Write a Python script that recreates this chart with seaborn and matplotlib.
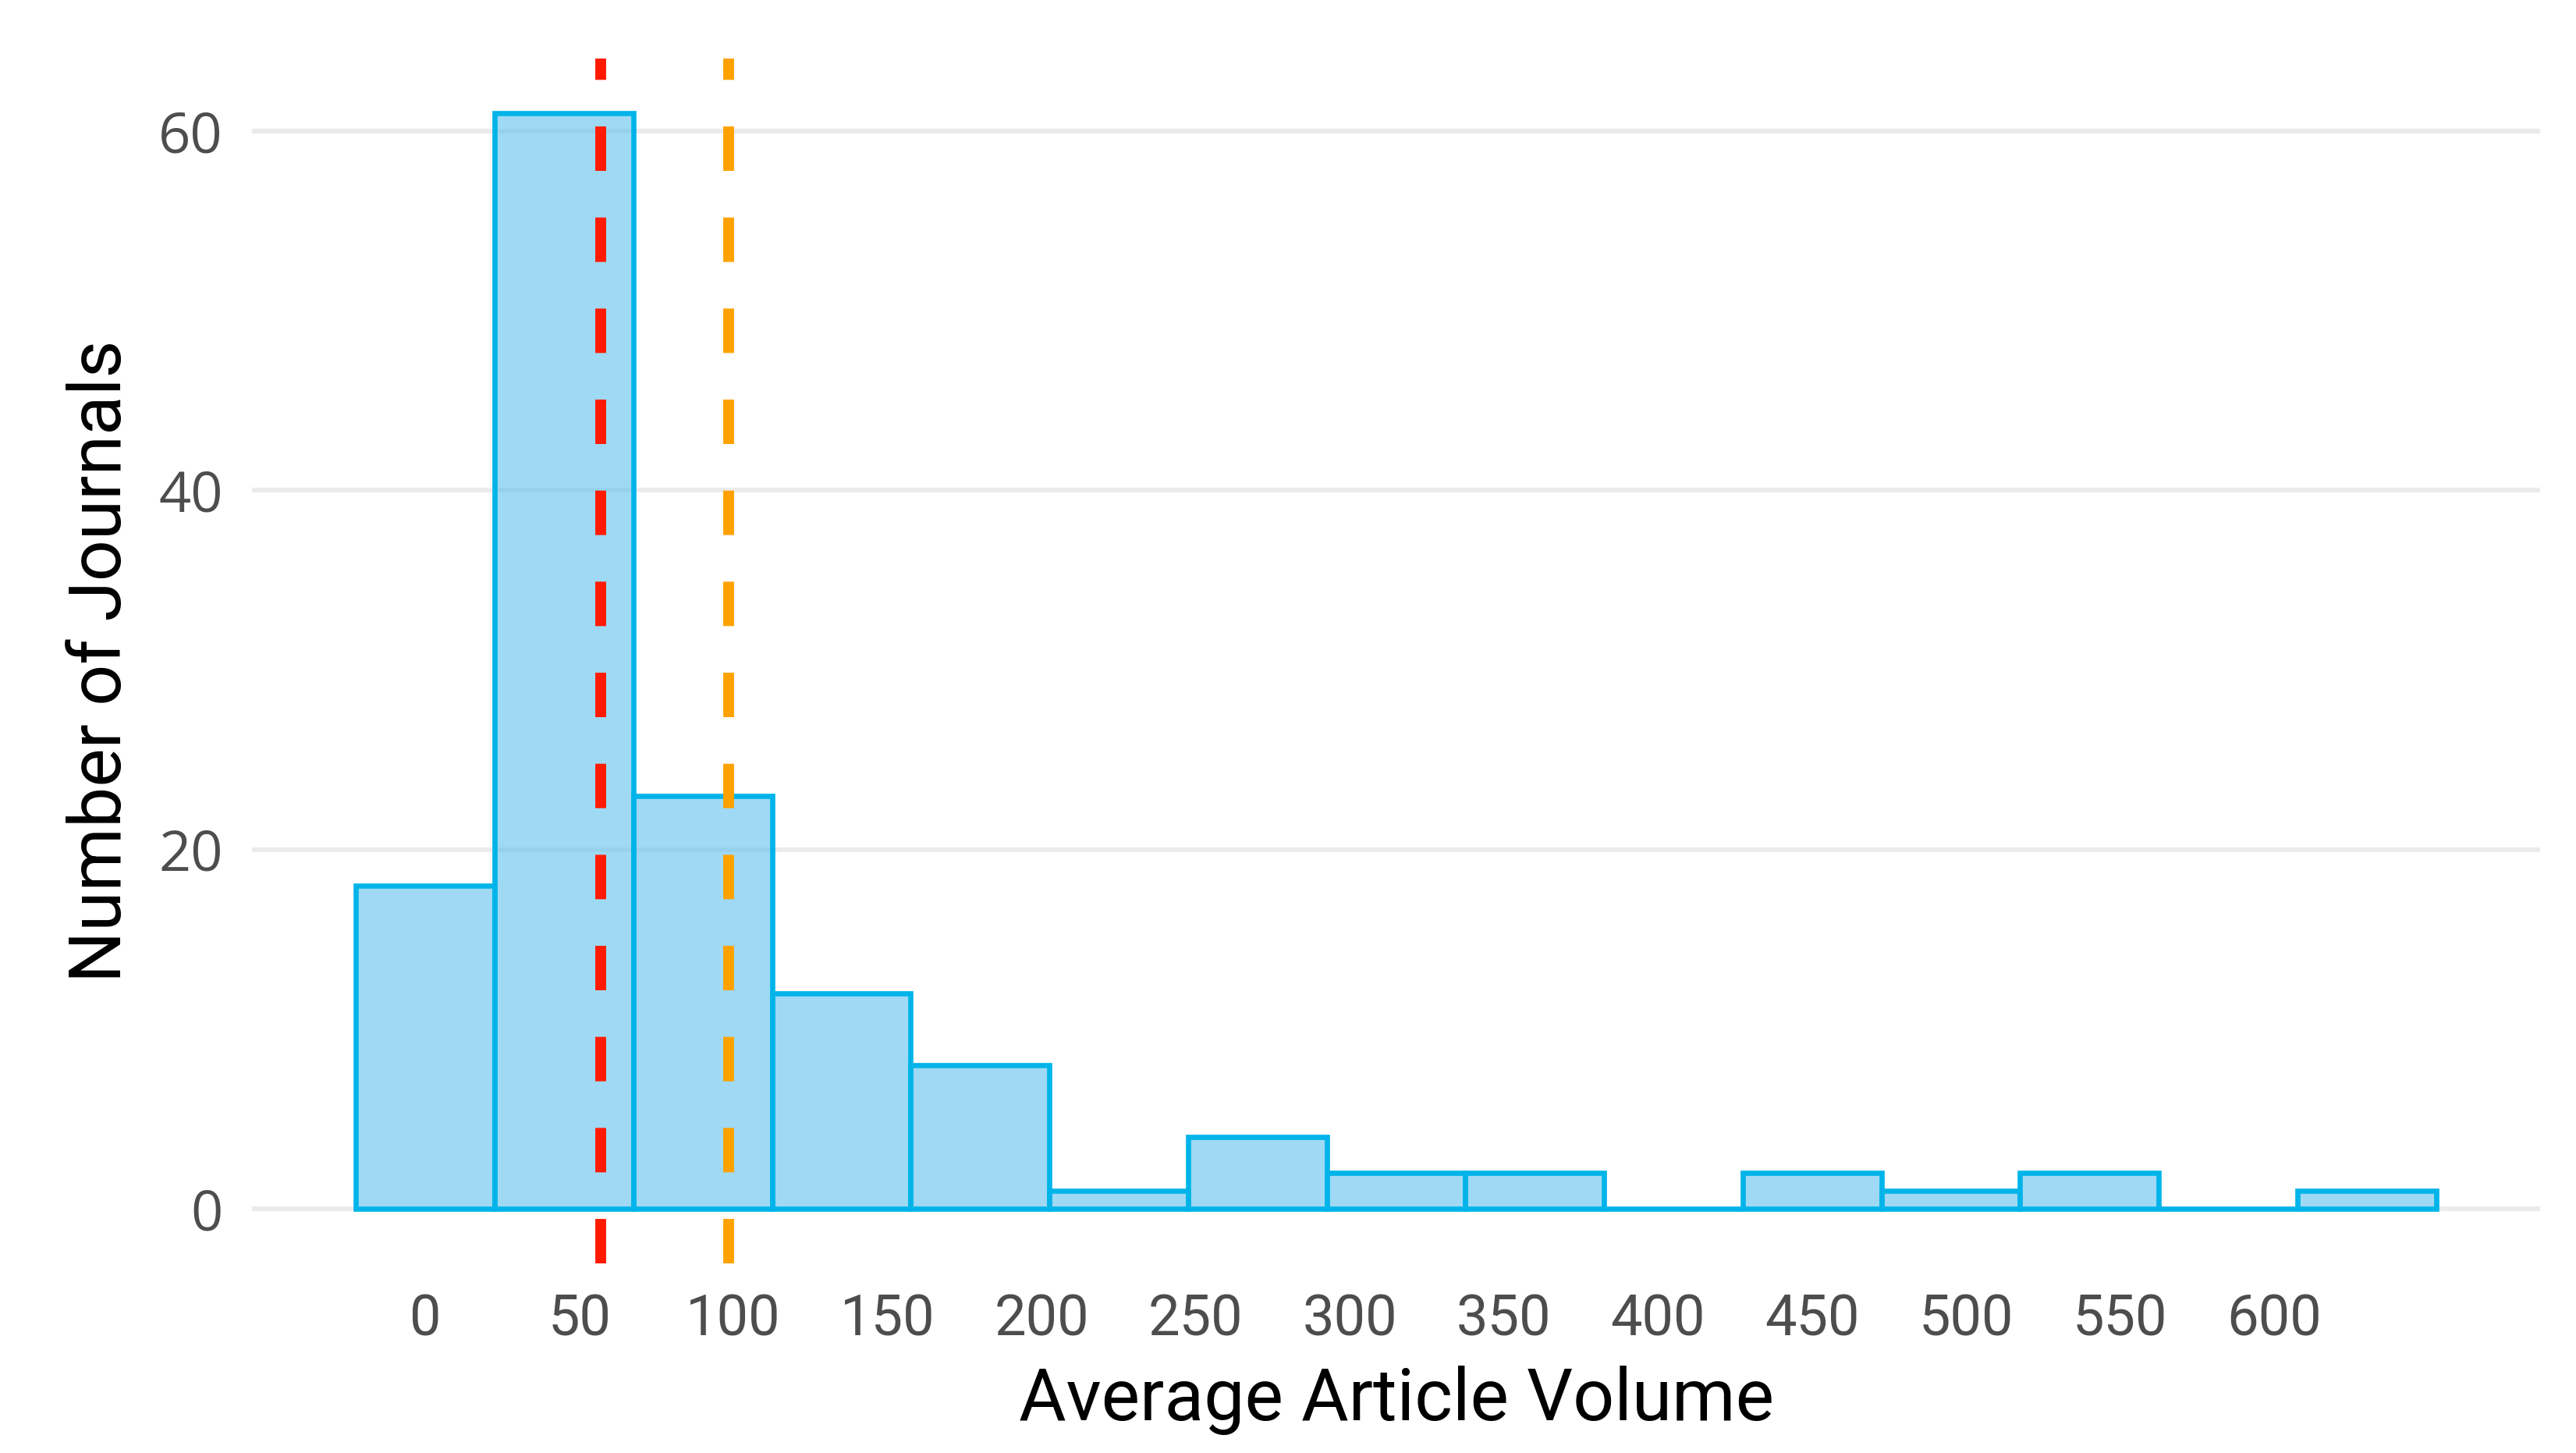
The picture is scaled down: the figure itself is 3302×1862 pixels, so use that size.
import matplotlib
matplotlib.use("Agg")
import matplotlib.pyplot as plt
import seaborn as sns

OUT_PATH = "out.png"

# histogram: bin centres (width 45) and journals per bin
bin_centers = [0, 45, 90, 135, 180, 225, 270, 315, 360, 405, 450, 495, 540, 585, 630]
journal_counts = [18, 61, 23, 12, 8, 1, 4, 2, 2, 0, 2, 1, 2, 0, 1]

x_ticks = [0, 50, 100, 150, 200, 250, 300, 350, 400, 450, 500, 550, 600]
y_ticks = [0, 20, 40, 60]

median_volume = 57.0   # red dashed line
mean_volume = 98.5     # orange dashed line

FILL = (0.376, 0.757, 0.929, 0.6)
EDGE = "#00b4e9"
TICK_GREY = "#4d4d4d"


def main():
    sns.set_theme(style="white")
    plt.rcParams["font.family"] = ["Roboto", "DejaVu Sans"]

    fig = plt.figure(figsize=(16.51, 9.31), dpi=200)
    ax = fig.add_axes([0.0978, 0.1305, 0.8883, 0.8292])

    half = (bin_centers[1] - bin_centers[0]) / 2
    sns.histplot(
        x=bin_centers, weights=journal_counts, bins=len(bin_centers),
        binrange=(bin_centers[0] - half, bin_centers[-1] + half),
        facecolor=FILL, edgecolor=EDGE, linewidth=2.4, ax=ax,
    )

    ax.axvline(median_volume, color="#ff1a00", lw=5, ls=(0, (4.1, 4.3)), zorder=4)
    ax.axvline(mean_volume, color="#ffa200", lw=5, ls=(0, (4.1, 4.3)), zorder=4)

    # ggplot-like expansion (5% on each side)
    lo, hi = bin_centers[0] - half, bin_centers[-1] + half
    pad_x = 0.05 * (hi - lo)
    ax.set_xlim(lo - pad_x, hi + pad_x)
    top = max(journal_counts)
    ax.set_ylim(-0.05 * top, top * 1.05)

    ax.set_xticks(x_ticks)
    ax.set_yticks(y_ticks)
    ax.tick_params(axis="x", length=0, pad=14, labelsize=26, labelcolor=TICK_GREY)
    ax.tick_params(axis="y", length=0, pad=13.3, labelsize=26, labelcolor=TICK_GREY)
    for lab in ax.get_yticklabels():
        lab.set_fontfamily(["Open Sans", "DejaVu Sans"])

    ax.grid(axis="y", color="#ebebeb", lw=2.2)
    ax.grid(axis="x", visible=False)
    ax.set_axisbelow(True)
    for s in ax.spines.values():
        s.set_visible(False)

    ax.set_xlabel("Average Article Volume", fontsize=33.5, color="black", va="baseline")
    ax.set_ylabel("Number of Journals", fontsize=33.5, color="black", va="baseline")
    ax.xaxis.set_label_coords(0.5, -0.1302)
    ax.yaxis.set_label_coords(-0.0571, 0.5)

    fig.savefig(OUT_PATH, dpi=200)
    plt.close(fig)


if __name__ == "__main__":
    main()
